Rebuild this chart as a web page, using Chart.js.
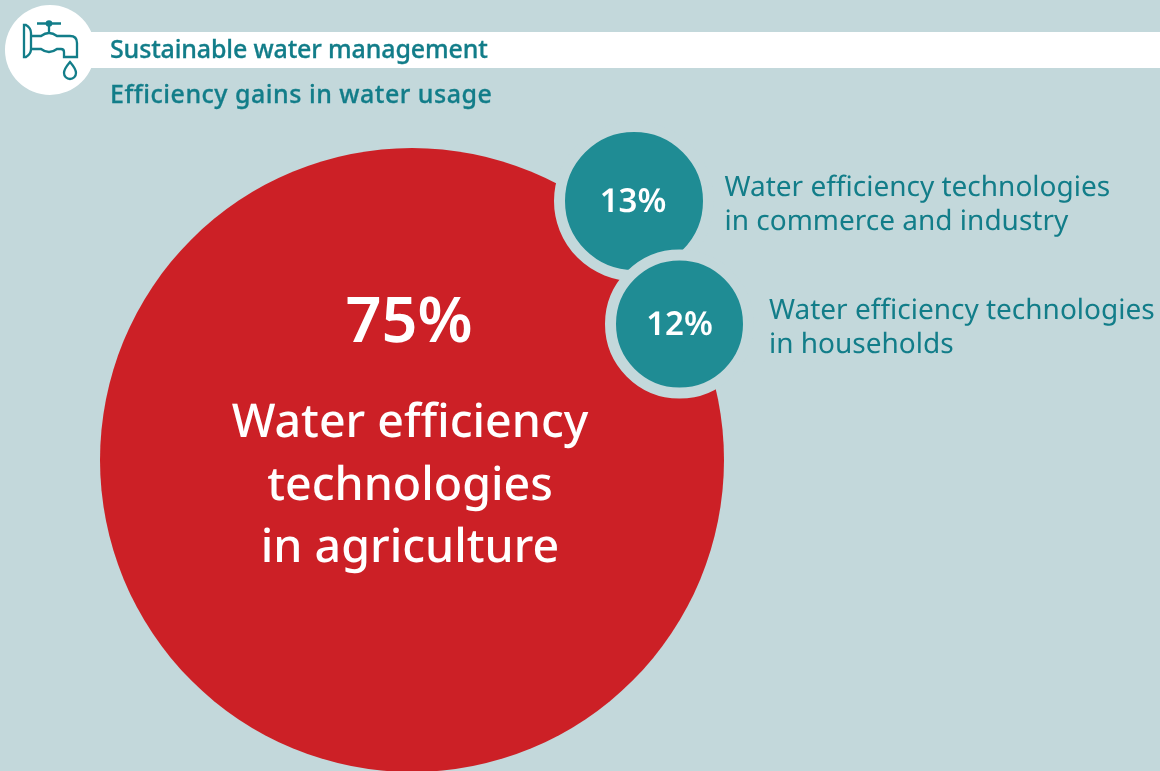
<!DOCTYPE html>
<html>
<head>
<meta charset="utf-8">
<title>Efficiency gains in water usage</title>
<script src="https://cdn.jsdelivr.net/npm/chart.js@4/dist/chart.umd.min.js"></script>
<style>
html, body { margin: 0; padding: 0; background: #c3d8db; }
#wrap { position: relative; width: 1160px; height: 771px; overflow: hidden; font-family: "Noto Sans", sans-serif; color: #127d89; }
#bar { position: absolute; left: 49px; top: 32px; right: 0; height: 36px; background: #fff; }
#disc { position: absolute; left: 5px; top: 5px; width: 90px; height: 90px; border-radius: 50%; background: #fff; }
#icon { position: absolute; left: 0; top: 0; }
#title, #subtitle { position: absolute; left: 110px; font-size: 25px; font-weight: 500; -webkit-text-stroke: 0.3px #127d89; white-space: nowrap; line-height: 30px; font-variant-ligatures: none; }
#title { top: 33px; letter-spacing: -0.15px; }
#subtitle { top: 78px; letter-spacing: 0.5px; }
canvas { position: absolute; left: 0; top: 0; }
</style>
</head>
<body>
<div id="wrap">
    <canvas id="bubbleCanvas" width="1160" height="771"></canvas>
    <div id="bar"></div>
    <div id="disc"></div>
    <svg id="icon" width="100" height="100" fill="none" stroke="#127d89" stroke-width="2.300">
        <path d="M24 25v32h2q5 -3 5 -8v-16q0 -5 -5 -8z"/>
        <path d="M37 23.500h24M49 24v9"/>
        <circle cx="49" cy="23.500" r="3.300" fill="#127d89" stroke="none"/>
        <path d="M31 36h10q8 -6 16 0h13q7 0 7 7v14h-13v-5q0 -3 -3 -3h-4q-8 6 -16 0h-10"/>
        <path d="M70 62q-6 7 -6 11a6 6 0 0 0 12 0q0 -4 -6 -11z"/>
    </svg>
    <div id="title"></div>
    <div id="subtitle"></div>
</div>
<script>
var titleText = "Sustainable water management";
var subtitleText = "Efficiency gains in water usage";

var shares = [75, 13, 12];
var shareLabels = ["75%", "13%", "12%"];
var bubbleX = [412, 634, 679.5];
var bubbleY = [460, 201, 324];
var bubbleR = [312, 69, 63.5];
var captions = [
    ["Water efficiency", "technologies", "in agriculture"],
    ["Water efficiency technologies", "in commerce and industry"],
    ["Water efficiency technologies", "in households"]
];

var BG = '#c3d8db';
var RED = '#cc2026';
var TEAL = '#1f8c94';
var TEXT_TEAL = '#127d89';
var FONT = '"Noto Sans", sans-serif';
var HALO = 11;

document.getElementById('title').textContent = titleText;
document.getElementById('subtitle').textContent = subtitleText;

function halo(i) {
    return i === 0 ? 0 : HALO;
}

var bubbleData = [];
for (var i = 0; i < shares.length; i++) {
    // the border is centred on r, half of it lies outside the fill
    bubbleData.push({ x: bubbleX[i], y: bubbleY[i], r: bubbleR[i] + halo(i) / 2 });
}

// percent values and captions, placed from the bubble positions
var labelPlugin = {
    id: 'bubbleLabels',
    afterDatasetsDraw: function(chart) {
        var ctx = chart.ctx;
        var x = chart.scales.x;
        var y = chart.scales.y;
        ctx.save();
        ctx.fillStyle = '#fff';
        ctx.textAlign = 'center';
        ctx.textBaseline = 'alphabetic';
        ctx.textRendering = 'geometricPrecision';

        ctx.font = '600 63px ' + FONT;
        ctx.fillText(shareLabels[0], x.getPixelForValue(bubbleX[0]) - 3, y.getPixelForValue(bubbleY[0]) - 118);
        ctx.font = '500 46.500px ' + FONT;
        for (var l = 0; l < captions[0].length; l++) {
            ctx.fillText(captions[0][l], x.getPixelForValue(bubbleX[0]) - 2, y.getPixelForValue(bubbleY[0]) - 23 + l * 62.5);
        }

        ctx.font = '600 33px ' + FONT;
        ctx.fillText(shareLabels[1], x.getPixelForValue(bubbleX[1]) - 1, y.getPixelForValue(bubbleY[1]) + 11);
        ctx.fillText(shareLabels[2], x.getPixelForValue(bubbleX[2]), y.getPixelForValue(bubbleY[2]) + 11);

        ctx.fillStyle = TEXT_TEAL;
        ctx.textAlign = 'left';
        ctx.font = '400 28px ' + FONT;
        for (var c = 1; c < captions.length; c++) {
            var left = x.getPixelForValue(bubbleX[c]) + (c === 1 ? 90.5 : 89.5);
            for (var m = 0; m < captions[c].length; m++) {
                ctx.fillText(captions[c][m], left, y.getPixelForValue(bubbleY[c]) - 5 + m * 34);
            }
        }
        ctx.restore();
    }
};

var ctx = document.getElementById('bubbleCanvas').getContext('2d');
var chart = new Chart(ctx, {
    type: 'bubble',
    data: {
        datasets: [{
            label: 'Efficiency gains in water usage',
            data: bubbleData,
            clip: false,
            backgroundColor: function(c) { return c.dataIndex === 0 ? RED : TEAL; },
            borderColor: BG,
            borderWidth: function(c) { return halo(c.dataIndex); },
            hoverBorderWidth: function(c) { return halo(c.dataIndex); }
        }]
    },
    options: {
        responsive: false,
        animation: false,
        layout: { padding: 0, autoPadding: false },
        plugins: {
            legend: { display: false },
            tooltip: { enabled: false },
            title: { display: false }
        },
        scales: {
            x: { type: 'linear', display: false, min: 0, max: 1160 },
            y: { type: 'linear', display: false, min: 0, max: 771, reverse: true }
        }
    },
    plugins: [labelPlugin]
});
</script>
</body>
</html>
